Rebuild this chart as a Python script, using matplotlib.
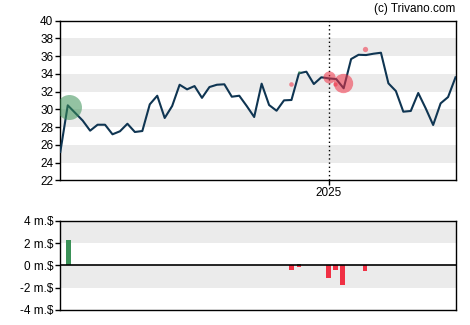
import matplotlib
matplotlib.use("Agg")
import matplotlib.pyplot as plt
import matplotlib.dates as mdates
import pandas as pd

# weekly closing prices
price = [25.2, 30.46, 29.6, 28.74, 27.6, 28.27, 28.27, 27.19, 27.53, 28.38,
         27.45, 27.56, 30.57, 31.54, 29.03, 30.38, 32.78, 32.26, 32.63, 31.3,
         32.52, 32.78, 32.83, 31.43, 31.54, 30.38, 29.14, 32.9, 30.49, 29.85,
         31.02, 31.06, 34.07, 34.25, 32.86, 33.62, 33.5, 33.42, 32.38, 35.68,
         36.16, 36.13, 36.28, 36.39, 32.94, 32.07, 29.74, 29.82, 31.85, 30.12,
         28.24, 30.68, 31.39, 33.62]
dates = pd.date_range("2024-04-24", periods=len(price), freq="7D")

# insider trades: date, trade price, net value in m.$
trade_dates = pd.to_datetime(["2024-05-02", "2024-11-27", "2024-12-04", "2024-12-04",
                              "2025-01-01", "2025-01-07", "2025-01-14", "2025-02-04"])
trade_price = [30.3, 32.85, 34.2, 34.2, 33.62, 32.9, 33.0, 36.77]
trade_value = [2.27, -0.42, 0.12, -0.12, -1.11, -0.39, -1.76, -0.48]

green = "#3a9157"
red = "#f03044"
navy = "#0f3552"
band = "#ebebeb"

fig = plt.figure(figsize=(4.7, 3.25), dpi=100)
ax = fig.add_axes([0.1283, 0.4452, 0.8409, 0.491])
ax2 = fig.add_axes([0.1283, 0.0462, 0.8409, 0.2748])

# price chart
for lo in [24, 28, 32, 36]:
    ax.axhspan(lo, lo + 2, color=band, lw=0, zorder=0)
ax.plot(dates, price, color=navy, lw=1.5, zorder=3)

for d, p, v in zip(trade_dates, trade_price, trade_value):
    if abs(v) < 0.2 and v < 0:
        continue
    r_px = max(5.5 * abs(v), 1.5)
    s = (2 * r_px * 0.72) ** 2
    col = green if v > 0 else red
    ax.scatter([d], [p], s=s, color=col, alpha=0.55, lw=0, zorder=4)

ax.axvline(pd.Timestamp("2025-01-01"), color="black", lw=1, ls=(0, (1, 2)), zorder=2)
ax.set_xlim(dates[0], dates[-1])
ax.set_ylim(22, 40)
ax.set_yticks(range(22, 41, 2))
ax.set_xticks([pd.Timestamp("2025-01-01")])
ax.xaxis.set_major_formatter(mdates.DateFormatter("%Y"))

# insider trading bars
ax2.axhspan(2, 4, color=band, lw=0, zorder=0)
ax2.axhspan(-2, 0, color=band, lw=0, zorder=0)
bar_cols = [green if v > 0 else red for v in trade_value]
ax2.bar(trade_dates, trade_value, width=4.5, color=bar_cols, zorder=2)
ax2.axhline(0, color="black", lw=1.2, zorder=3)
ax2.set_xlim(dates[0], dates[-1])
ax2.set_ylim(-4, 4)
ax2.set_yticks([-4, -2, 0, 2, 4])
ax2.set_yticklabels([f"{t} m.$" for t in [-4, -2, 0, 2, 4]])
ax2.set_xticks([])

for a in (ax, ax2):
    for sp in a.spines.values():
        sp.set_linewidth(1)
        sp.set_color("black")
    a.tick_params(labelsize=8, length=3.5, width=1, pad=1.5, colors="black")
    for lab in a.get_yticklabels() + a.get_xticklabels():
        lab.set_family("Liberation Sans")
        lab.set_fontsize(8.5)

fig.text(0.969, 0.972, "(c) Trivano.com", ha="right", va="center",
         fontsize=8.5, family="Liberation Sans")

fig.savefig("out.png", dpi=100)
